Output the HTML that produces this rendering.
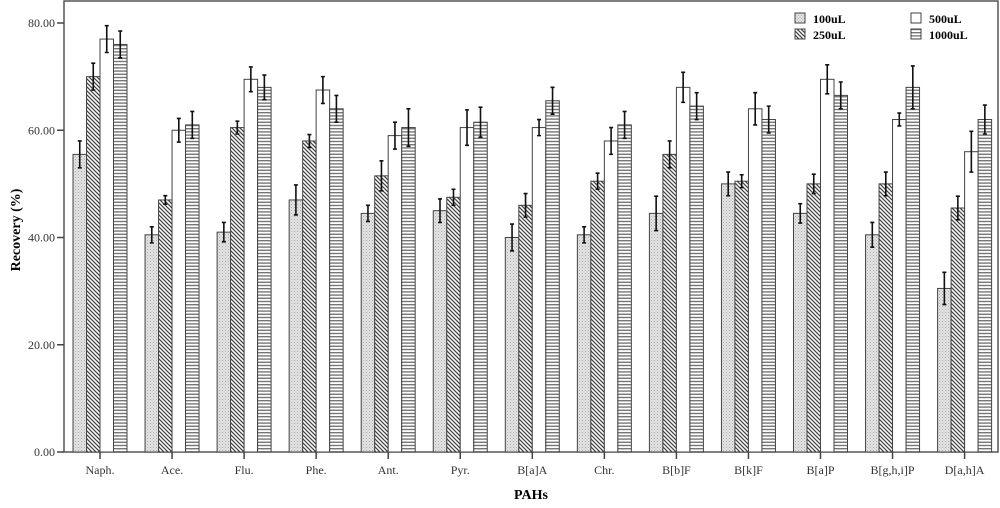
<!DOCTYPE html>
<html><head><meta charset="utf-8"><style>
body{margin:0;background:#fff}
svg text{font-family:"Liberation Serif",serif}
</style></head><body>
<svg id="c" width="1000" height="503" xmlns="http://www.w3.org/2000/svg">
<defs>
<pattern id="pDot" width="3" height="3" patternUnits="userSpaceOnUse"><rect width="3" height="3" fill="#e4e4e4"/><rect width="1" height="1" fill="#aaa"/><rect x="1.5" y="1.5" width="1" height="1" fill="#bbb"/></pattern>
<pattern id="pDiag" width="4" height="4" patternUnits="userSpaceOnUse"><rect width="4" height="4" fill="#fff"/><path d="M-1,-1 L5,5 M-1,3 L1,5 M3,-1 L5,1" stroke="#444" stroke-width="1.3"/></pattern>
<pattern id="pHor" width="4" height="3.2" patternUnits="userSpaceOnUse"><rect width="4" height="3.2" fill="#fff"/><rect y="0" width="4" height="1.4" fill="#777"/></pattern>
</defs>
<rect x="64" y="1" width="934" height="451" fill="#fff" stroke="#555" stroke-width="1.5"/>
<g id="bars"></g>
<g id="axes"></g>
<text x="20" y="230" font-size="14" font-weight="bold" text-anchor="middle" transform="rotate(-90 20 230)">Recovery (%)</text>
<text x="531" y="499" font-size="14" font-weight="bold" text-anchor="middle">PAHs</text>
<g font-size="12" font-weight="bold">
<g><rect x="795" y="13" width="10" height="10" fill="url(#pDot)" stroke="#444"/><text x="813" y="23">100uL</text></g>
<g><rect x="795" y="29" width="10" height="10" fill="url(#pDiag)" stroke="#444"/><text x="813" y="39">250uL</text></g>
<g><rect x="911" y="13" width="10" height="10" fill="#fff" stroke="#444"/><text x="929" y="23">500uL</text></g>
<g><rect x="911" y="29" width="10" height="10" fill="url(#pHor)" stroke="#444"/><text x="929" y="39">1000uL</text></g>
</g>
</svg>
<script>
const categories=["Naph.","Ace.","Flu.","Phe.","Ant.","Pyr.","B[a]A","Chr.","B[b]F","B[k]F","B[a]P","B[g,h,i]P","D[a,h]A"];
const s100=[55.5,40.5,41,47,44.5,45,40,40.5,44.5,50,44.5,40.5,30.5];
const s250=[70,47,60.5,58,51.5,47.5,46,50.5,55.5,50.5,50,50,45.5];
const s500=[77,60,69.5,67.5,59,60.5,60.5,58,68,64,69.5,62,56];
const s1000=[76,61,68,64,60.5,61.5,65.5,61,64.5,62,66.5,68,62];
const e100=[2.5,1.5,1.8,2.8,1.5,2.2,2.5,1.5,3.2,2.2,1.8,2.3,3];
const e250=[2.5,0.8,1.2,1.2,2.8,1.5,2.2,1.5,2.5,1.2,1.8,2.2,2.2];
const e500=[2.5,2.2,2.3,2.5,2.5,3.3,1.5,2.5,2.8,3,2.7,1.2,3.8];
const e1000=[2.5,2.5,2.3,2.5,3.5,2.8,2.5,2.5,2.5,2.5,2.5,4,2.7];
const yTicks=[0,20,40,60,80];
const series=[[s100,e100,"url(#pDot)","100ul"],[s250,e250,"url(#pDiag)","250ul"],[s500,e500,"#fff","500ul"],[s1000,e1000,"url(#pHor)","1000ul"]];
const NS="http://www.w3.org/2000/svg";
const y=v=>452-v*429/80;
const xc=i=>100+i*72.05;
const bw=13.5;
function mk(t,a,p){const e=document.createElementNS(NS,t);for(const k in a)e.setAttribute(k,a[k]);p.appendChild(e);return e;}
const bars=document.getElementById("bars"),axes=document.getElementById("axes");
categories.forEach((c,i)=>{
 series.forEach((s,j)=>{
  const v=s[0][i],er=s[1][i],x0=xc(i)-2*bw+j*bw;
  const r=mk("rect",{x:x0,y:y(v),width:bw,height:452-y(v),fill:s[2],stroke:"#444","stroke-width":1},bars);
  
  
  const cx=x0+bw/2;
  const g=mk("path",{d:`M${cx},${y(v+er)}V${y(v-er)}M${cx-2},${y(v+er)}H${cx+2}M${cx-2},${y(v-er)}H${cx+2}`,stroke:"#111","stroke-width":1.6,fill:"none"},bars);
  
  
 });
 mk("line",{x1:xc(i),x2:xc(i),y1:452,y2:459,stroke:"#444","stroke-width":1.5},axes);
 const t=mk("text",{x:xc(i),y:474,"font-size":12,"text-anchor":"middle",fill:"#333"},axes);
 t.textContent=c;
 
 
});
yTicks.forEach(v=>{
 mk("line",{x1:57,x2:64,y1:y(v),y2:y(v),stroke:"#444","stroke-width":1.5},axes);
 const t=mk("text",{x:55,y:y(v)+4,"font-size":12,"text-anchor":"end",fill:"#333","font-family":"Liberation Sans, sans-serif"},axes);
 t.textContent=v.toFixed(2);
 
 
});
</script>
</body></html>
